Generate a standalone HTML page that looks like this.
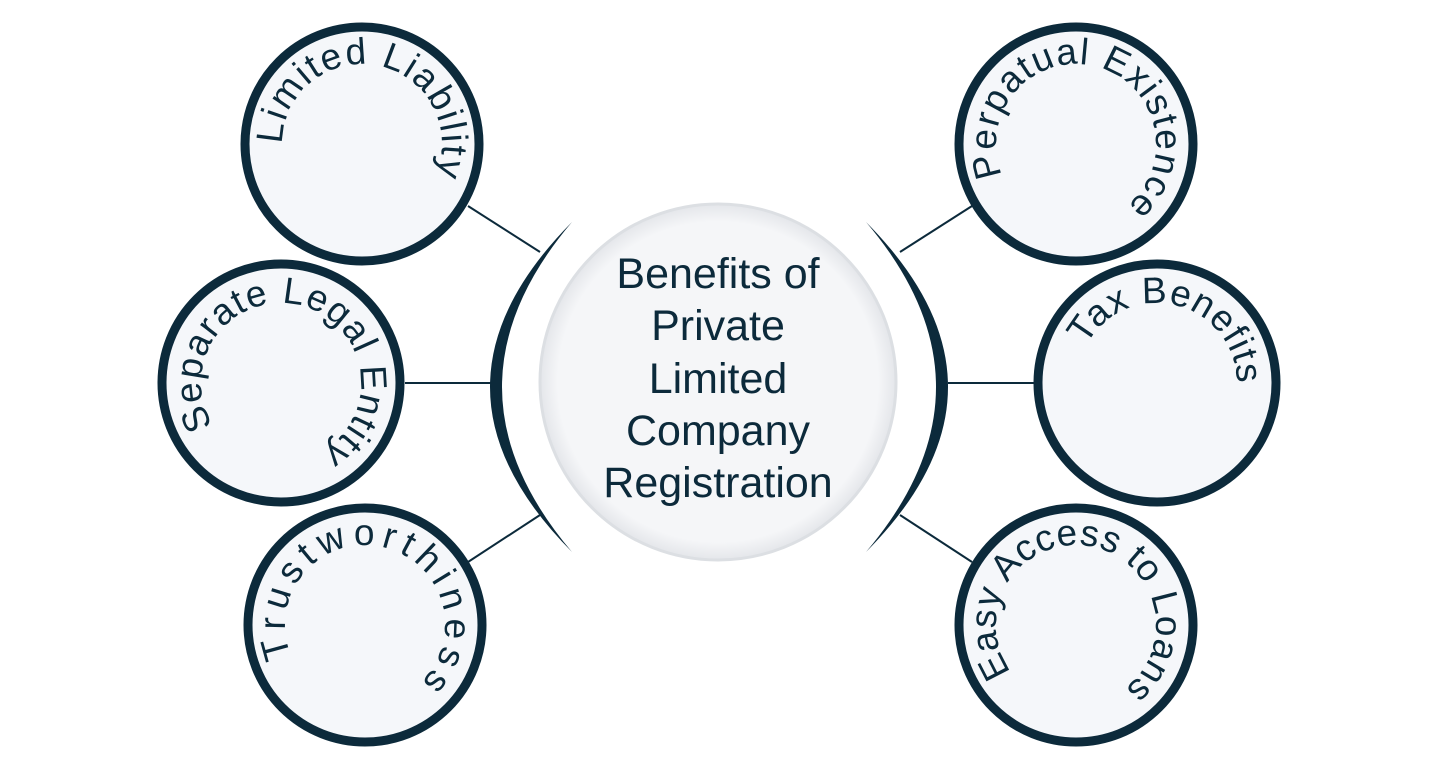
<!DOCTYPE html>
<html><head><meta charset="utf-8"><style>
html,body{margin:0;padding:0;background:#fff;}
svg{display:block;}
text{font-family:"Liberation Sans",sans-serif;fill:#0c2a3b;}
</style></head><body>
<svg width="1440" height="760" viewBox="0 0 1440 760" xmlns="http://www.w3.org/2000/svg">
<defs>
<path id="ring" d="M80 0 A80 80 0 1 1 -80 0 A80 80 0 1 1 80 0"/>
<radialGradient id="cg" cx="50%" cy="50%" r="50%">
<stop offset="0.9" stop-color="#f5f6f8"/><stop offset="1" stop-color="#e4e6ea"/>
</radialGradient>
</defs>
<g stroke="#0c2a3b" stroke-width="2" fill="none">
<line x1="468" y1="206" x2="540" y2="252"/>
<line x1="405" y1="383" x2="492" y2="383"/>
<line x1="468" y1="562" x2="540" y2="515"/>
<line x1="900" y1="252" x2="972" y2="206"/>
<line x1="948" y1="383" x2="1035" y2="383"/>
<line x1="900" y1="515" x2="972" y2="562"/>
</g>
<path d="M572 222 Q408 387 572 552 Q432 387 572 222Z" fill="#0c2a3b"/>
<path d="M866 222 Q1030 387 866 552 Q1006 387 866 222Z" fill="#0c2a3b"/>
<circle cx="718" cy="382" r="178" fill="url(#cg)" stroke="#dcdfe3" stroke-width="3"/>
<g font-size="43" text-anchor="middle">
<text x="718" y="288">Benefits of</text>
<text x="718" y="340">Private</text>
<text x="718" y="393">Limited</text>
<text x="718" y="445">Company</text>
<text x="718" y="497">Registration</text>
</g>
<g fill="#f5f7fa" stroke="#0c2a3b" stroke-width="9">
<circle cx="362" cy="144" r="117"/>
<circle cx="281" cy="383" r="119"/>
<circle cx="365" cy="625" r="117"/>
<circle cx="1076" cy="144" r="117"/>
<circle cx="1157" cy="383" r="119"/>
<circle cx="1076" cy="625" r="117"/>
</g>
<g font-size="37">
<g transform="translate(362,144) rotate(180)"><text textLength="282" lengthAdjust="spacing"><textPath href="#ring">Limited Liability</textPath></text></g>
<g transform="translate(281,383) rotate(148)"><text textLength="377" lengthAdjust="spacing"><textPath href="#ring">Separate Legal Entity</textPath></text></g>
<g transform="translate(365,625) rotate(157)"><text textLength="346" lengthAdjust="spacing"><textPath href="#ring">Trustworthiness</textPath></text></g>
<g transform="translate(1076,144) rotate(157)"><text textLength="353" lengthAdjust="spacing"><textPath href="#ring">Perpatual Existence</textPath></text></g>
<g transform="translate(1157,383) rotate(208)"><text textLength="212" lengthAdjust="spacing"><textPath href="#ring">Tax Benefits</textPath></text></g>
<g transform="translate(1076,625) rotate(144)"><text textLength="374" lengthAdjust="spacing"><textPath href="#ring">Easy Access to Loans</textPath></text></g>
</g>
</svg>
</body></html>
